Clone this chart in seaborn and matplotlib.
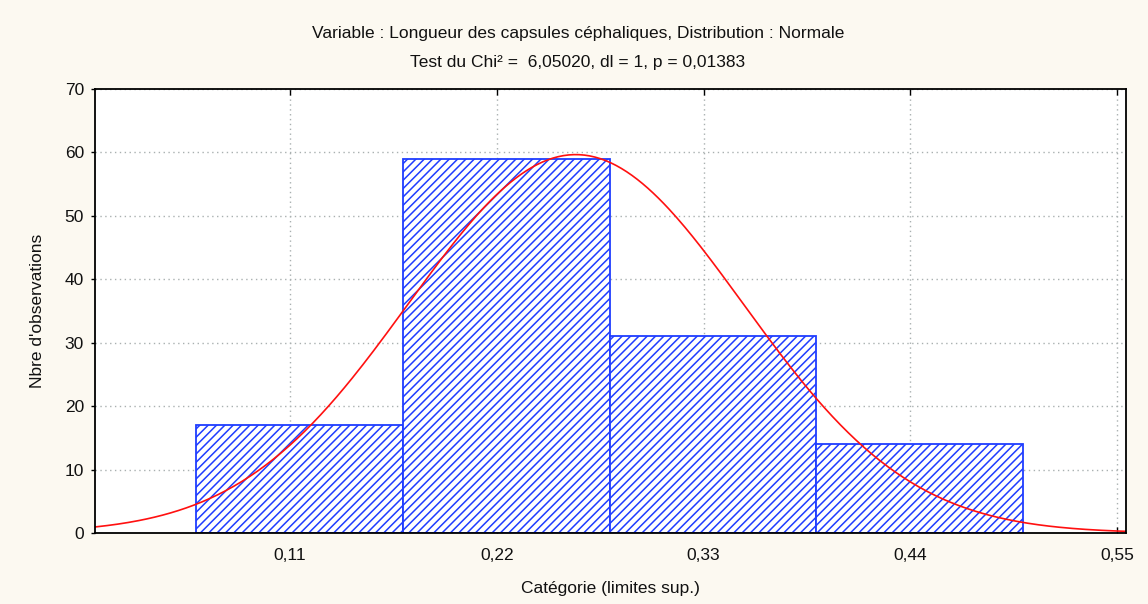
import numpy as np
import pandas as pd
import matplotlib
matplotlib.use("Agg")
import matplotlib.pyplot as plt
import seaborn as sns

# Histogram bins (class edges) and observed counts
bin_edges = [0.06, 0.17, 0.28, 0.39, 0.50]
counts = [17, 59, 31, 14]

# Fitted normal distribution parameters
fit_mean = 0.262
fit_sd = 0.089

# Axis ticks and labels
x_ticks = [0.11, 0.22, 0.33, 0.44, 0.55]
x_tick_labels = ["0,11", "0,22", "0,33", "0,44", "0,55"]
y_ticks = [0, 10, 20, 30, 40, 50, 60, 70]

title_line1 = "Variable : Longueur des capsules céphaliques, Distribution : Normale"
title_line2 = "Test du Chi² =  6,05020, dl = 1, p = 0,01383"
x_label = "Catégorie (limites sup.)"
y_label = "Nbre d'observations"

sns.set_theme(style="white")
plt.rcParams["font.family"] = ["Liberation Sans", "DejaVu Sans"]
plt.rcParams["hatch.linewidth"] = 1.1

fs = 12.5
txt = "#111111"

fig = plt.figure(figsize=(11.48, 6.04), dpi=100, facecolor="#fcf9f1")
ax = fig.add_axes([0.0828, 0.1175, 0.8980, 0.7351])
ax.set_facecolor("white")

centers = [(a + b) / 2 for a, b in zip(bin_edges[:-1], bin_edges[1:])]
df = pd.DataFrame({"centre": centers, "n": counts})

blue = "#1f3dff"
sns.histplot(data=df, x="centre", weights="n", bins=bin_edges, ax=ax,
             stat="count", fill=True, facecolor="white", edgecolor=blue,
             linewidth=1.3, hatch="////", alpha=1.0, zorder=3)
for p in ax.patches:
    p.set_facecolor("white")
    p.set_edgecolor(blue)
    p.set_hatch("////")

# Expected counts under the fitted normal curve
n_total = sum(counts)
width = bin_edges[1] - bin_edges[0]
xs = np.linspace(0.0, 0.56, 400)
ys = n_total * width * np.exp(-0.5 * ((xs - fit_mean) / fit_sd) ** 2) / (fit_sd * np.sqrt(2 * np.pi))
sns.lineplot(x=xs, y=ys, ax=ax, color="#ff1010", linewidth=1.2, zorder=4)

ax.set_xlim(0.0062, 0.5548)
ax.set_ylim(0, 70)
ax.set_xticks(x_ticks)
ax.set_xticklabels(x_tick_labels)
ax.set_yticks(y_ticks)

ax.grid(True, color="#a9b0b0", linestyle=(0, (1, 2.5)), linewidth=1.0, zorder=0)
ax.set_axisbelow(True)

for s in ax.spines.values():
    s.set_color("black")
    s.set_linewidth(1.3)
    s.set_zorder(5)

ax.tick_params(axis="x", direction="in", length=4, width=1, color="black",
               top=True, bottom=True, labelsize=fs, pad=11, labelcolor=txt)
ax.tick_params(axis="y", direction="out", length=3, width=1, color="black",
               left=True, labelsize=fs, pad=5, labelcolor=txt)

ax.set_xlabel(x_label, fontsize=fs, labelpad=13, color=txt)
ax.set_ylabel(y_label, fontsize=fs, labelpad=14, color=txt)

fig.text(0.5035, 0.945, title_line1, ha="center", va="center", fontsize=fs, color=txt)
fig.text(0.5035, 0.897, title_line2, ha="center", va="center", fontsize=fs, color=txt)

fig.savefig("out.png", dpi=100, facecolor=fig.get_facecolor())
